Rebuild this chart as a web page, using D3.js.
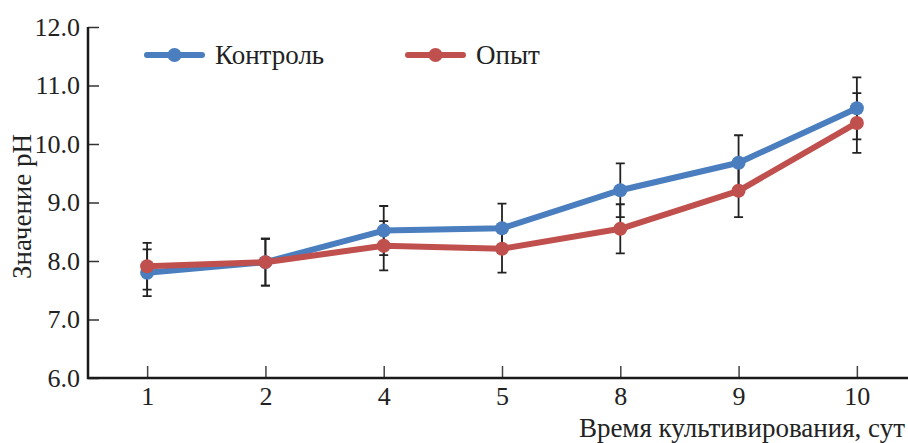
<!DOCTYPE html>
<html>
<head>
<meta charset="utf-8">
<script src="https://cdn.jsdelivr.net/npm/d3@7"></script>
<style>
  body { margin: 0; background: #fff; }
  svg { display: block; }
</style>
</head>
<body>
<svg id="chart"></svg>
<script>
const days = ['1', '2', '4', '5', '8', '9', '10'];
const yTicks = [6, 7, 8, 9, 10, 11, 12];
const control = [7.80, 7.98, 8.52, 8.56, 9.21, 9.68, 10.61];
const controlErr = [0.40, 0.40, 0.42, 0.42, 0.46, 0.47, 0.53];
const opyt = [7.91, 7.98, 8.26, 8.21, 8.55, 9.20, 10.36];
const opytErr = [0.40, 0.40, 0.42, 0.41, 0.42, 0.45, 0.51];

const FONT = "'Liberation Serif', 'Times New Roman', serif";
const width = 908;
const height = 443;
const marginLeft = 88;
const marginTop = 27;
const marginBottom = 65;

const series = [
  { name: 'Контроль', color: '#4a7ebf', values: control, err: controlErr, legendX: 147 },
  { name: 'Опыт', color: '#c0504d', values: opyt, err: opytErr, legendX: 408 },
];

const svg = d3.select('#chart').attr('width', width).attr('height', height);

const x = d3.scalePoint(days, [marginLeft, 916]).padding(0.5);
const y = d3.scaleLinear([6, 12], [height - marginBottom, marginTop]);

// оси
const yAxis = d3.axisRight(y).tickValues(yTicks).tickSize(11).tickFormat(d3.format('.1f'));
svg
  .append('g')
  .attr('transform', `translate(${marginLeft},0)`)
  .call(yAxis)
  .call((g) => g.select('.domain').remove())
  .call((g) => g.selectAll('.tick line').attr('stroke', '#333').attr('stroke-width', 1.5))
  .call((g) =>
    g
      .selectAll('.tick text')
      .attr('x', -8)
      .attr('text-anchor', 'end')
      .attr('fill', '#222')
      .style('font-family', FONT)
      .style('font-size', '26px'),
  );

const xAxis = d3.axisTop(x).tickSize(12).tickFormat((d) => d);
svg
  .append('g')
  .attr('transform', `translate(0,${height - marginBottom})`)
  .call(xAxis)
  .call((g) => g.select('.domain').remove())
  .call((g) => g.selectAll('.tick line').attr('stroke', '#444').attr('stroke-width', 1.5))
  .call((g) =>
    g
      .selectAll('.tick text')
      .attr('y', 27)
      .attr('dy', null)
      .attr('fill', '#222')
      .style('font-family', FONT)
      .style('font-size', '26px'),
  );

svg
  .append('path')
  .attr('d', `M${marginLeft},${marginTop}V${height - marginBottom}H${width}`)
  .attr('fill', 'none')
  .attr('stroke', '#1a1a1a')
  .attr('stroke-width', 2.5);

// подписи осей
svg
  .append('text')
  .attr('transform', `translate(31,${(marginTop + height - marginBottom) / 2 + 4}) rotate(-90)`)
  .attr('text-anchor', 'middle')
  .attr('fill', '#222')
  .style('font-family', FONT)
  .style('font-size', '27px')
  .text('Значение pH');

svg
  .append('text')
  .attr('x', 905)
  .attr('y', 437)
  .attr('text-anchor', 'end')
  .attr('fill', '#222')
  .style('font-family', FONT)
  .style('font-size', '27px')
  .text('Время культивирования, сут');

// планки погрешностей
const capW = 4.5;
series.forEach((s) => {
  const g = svg.append('g').attr('stroke', '#222').attr('stroke-width', 1.8).attr('fill', 'none');
  g.selectAll('path')
    .data(days)
    .join('path')
    .attr('d', (d, i) => {
      const cx = x(d);
      const top = y(s.values[i] + s.err[i]);
      const bot = y(s.values[i] - s.err[i]);
      return `M${cx - capW},${top}H${cx + capW}M${cx},${top}V${bot}M${cx - capW},${bot}H${cx + capW}`;
    });
});

// линии и точки
const line = d3
  .line()
  .x((v, i) => x(days[i]))
  .y((v) => y(v));

series.forEach((s) => {
  svg
    .append('path')
    .datum(s.values)
    .attr('d', line)
    .attr('fill', 'none')
    .attr('stroke', s.color)
    .attr('stroke-width', 6)
    .attr('stroke-linejoin', 'round');
  svg
    .append('g')
    .selectAll('circle')
    .data(s.values)
    .join('circle')
    .attr('cx', (v, i) => x(days[i]))
    .attr('cy', (v) => y(v))
    .attr('r', 7)
    .attr('fill', s.color);
});

// легенда
const legend = svg.append('g').selectAll('g').data(series).join('g').attr('transform', (s) => `translate(${s.legendX},55)`);
legend
  .append('line')
  .attr('x1', 0)
  .attr('x2', 55)
  .attr('stroke', (s) => s.color)
  .attr('stroke-width', 6)
  .attr('stroke-linecap', 'round');
legend.append('circle').attr('cx', 27.5).attr('r', 7).attr('fill', (s) => s.color);
legend
  .append('text')
  .attr('x', 68)
  .attr('dy', '0.35em')
  .attr('fill', '#222')
  .style('font-family', FONT)
  .style('font-size', '27px')
  .text((s) => s.name);
</script>
</body>
</html>
